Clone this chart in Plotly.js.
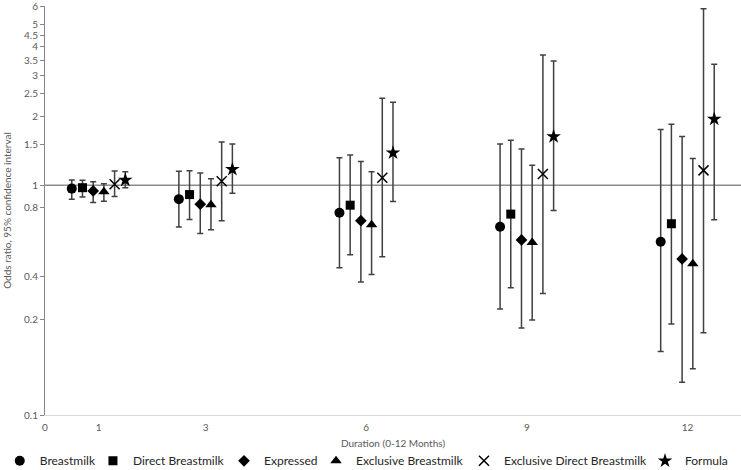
<!DOCTYPE html>
<html>
<head>
<meta charset="utf-8">
<script src="https://cdn.plot.ly/plotly-3.0.1.min.js"></script>
<style>html,body{margin:0;padding:0;background:#fff;}#chart{width:741px;height:470px;}</style>
</head>
<body>
<div id="chart"></div>
<script>
// Duration groups (months)
const months = [1, 3, 6, 9, 12];

// Series names
const seriesNames = ["Breastmilk", "Direct Breastmilk", "Expressed", "Exclusive Breastmilk", "Exclusive Direct Breastmilk", "Formula"];

// Odds ratios
const orBreastmilk = [0.967, 0.870, 0.759, 0.660, 0.568];
const orDirect = [0.976, 0.911, 0.819, 0.749, 0.680];
const orExpressed = [0.945, 0.827, 0.701, 0.578, 0.478];
const orExclusive = [0.938, 0.822, 0.673, 0.564, 0.455];
const orExclusiveDirect = [1.010, 1.041, 1.079, 1.119, 1.161];
const orFormula = [1.054, 1.173, 1.384, 1.630, 1.942];

// Lower 95% CI
const loBreastmilk = [0.870, 0.658, 0.438, 0.289, 0.189];
const loDirect = [0.890, 0.710, 0.498, 0.358, 0.249];
const loExpressed = [0.841, 0.617, 0.379, 0.239, 0.139];
const loExclusive = [0.852, 0.640, 0.409, 0.259, 0.159];
const loExclusiveDirect = [0.893, 0.701, 0.489, 0.338, 0.228];
const loFormula = [0.976, 0.923, 0.849, 0.776, 0.707];

// Upper 95% CI
const hiBreastmilk = [1.054, 1.150, 1.317, 1.514, 1.748];
const hiDirect = [1.051, 1.157, 1.353, 1.571, 1.843];
const hiExpressed = [1.036, 1.130, 1.270, 1.440, 1.630];
const hiExclusive = [1.016, 1.068, 1.145, 1.221, 1.309];
const hiExclusiveDirect = [1.153, 1.544, 2.394, 3.690, 5.870];
const hiFormula = [1.145, 1.514, 2.300, 3.476, 3.360];

// Axis ticks
const xTickVals = [0, 1, 3, 6, 9, 12];
const yTickVals = [0.1, 0.26, 0.4, 0.8, 1, 1.5, 2, 2.5, 3, 3.5, 4, 4.5, 5, 6];
const yTickText = ["0.1", "0.2", "0.4", "0.8", "1", "1.5", "2", "2.5", "3", "3.5", "4", "4.5", "5", "6"];

const orAll = [orBreastmilk, orDirect, orExpressed, orExclusive, orExclusiveDirect, orFormula];
const loAll = [loBreastmilk, loDirect, loExpressed, loExclusive, loExclusiveDirect, loFormula];
const hiAll = [hiBreastmilk, hiDirect, hiExpressed, hiExclusive, hiExclusiveDirect, hiFormula];

// style
const symbols = ["circle", "square", "diamond", "triangle-up", "x-thin-open", "star"];
const sizes = [10, 9, 9, 10, 10, 11];
const offsets = [-0.5, -0.3, -0.1, 0.1, 0.3, 0.5];
const legendIds = ["legend", "legend2", "legend3", "legend4", "legend5", "legend6"];
const legendX = [-0.065, 0.0689, 0.2572, 0.3894, 0.6020, 0.8621];

const traces = seriesNames.map((name, i) => {
  const isX = symbols[i] === "x-thin-open";
  return {
    type: "scatter",
    mode: "markers",
    name: name,
    legend: legendIds[i],
    x: months.map(m => m + offsets[i]),
    y: orAll[i],
    marker: {
      symbol: symbols[i],
      size: sizes[i],
      color: "#000",
      line: isX ? {color: "#000", width: 1.5} : {width: 0}
    },
    error_y: {
      type: "data",
      symmetric: false,
      array: orAll[i].map((v, k) => hiAll[i][k] - v),
      arrayminus: orAll[i].map((v, k) => v - loAll[i][k]),
      color: "#404040",
      thickness: 1.5,
      width: 3
    },
    hoverinfo: "x+y+name"
  };
});

const layout = {
  width: 741,
  height: 470,
  margin: {l: 45, r: 0, t: 6, b: 55, autoexpand: false},
  paper_bgcolor: "#fff",
  plot_bgcolor: "#fff",
  font: {family: "Lato, 'Open Sans', sans-serif", color: "#595959", size: 10},
  showlegend: true,
  xaxis: {
    type: "linear",
    range: [0, 13],
    tickvals: xTickVals,
    ticktext: xTickVals.map(String),
    ticks: "",
    ticklabelstandoff: 3,
    showgrid: false,
    zeroline: false,
    showline: true,
    linecolor: "#d9d9d9",
    linewidth: 1,
    tickfont: {size: 10, color: "#595959"},
    title: {text: "Duration (0-12 Months)", font: {size: 10, color: "#595959"}, standoff: 7}
  },
  yaxis: {
    type: "log",
    range: [-1, Math.log10(6.03)],
    tickvals: yTickVals,
    ticktext: yTickText,
    ticks: "outside",
    ticklen: 4,
    tickcolor: "#868686",
    ticklabeloverflow: "allow",
    showgrid: false,
    zeroline: false,
    showline: true,
    linecolor: "#868686",
    linewidth: 1,
    tickfont: {size: 10, color: "#595959"},
    title: {text: "Odds ratio, 95% confidence interval", font: {size: 10, color: "#595959"}, standoff: 10}
  },
  shapes: [{
    type: "line",
    xref: "paper", x0: 0, x1: 1,
    yref: "y", y0: 1, y1: 1,
    line: {color: "#8c8c8c", width: 1.3},
    layer: "below"
  }]
};

legendIds.forEach((id, i) => {
  layout[id] = {
    orientation: "h",
    x: legendX[i],
    xanchor: "left",
    y: -0.112,
    yanchor: "middle",
    font: {size: 12, color: "#262626"},
    itemwidth: 30,
    bgcolor: "rgba(0,0,0,0)"
  };
});

Plotly.newPlot("chart", traces, layout, {displayModeBar: false, staticPlot: true});
</script>
</body>
</html>
